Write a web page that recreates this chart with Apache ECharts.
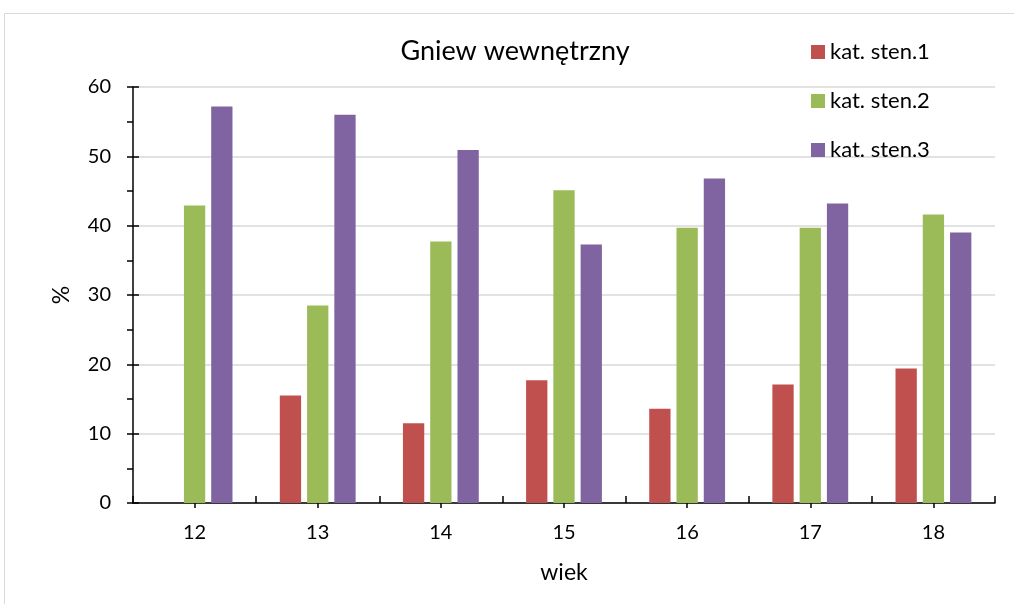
<!DOCTYPE html>
<html>
<head>
<meta charset="utf-8">
<script src="https://cdn.jsdelivr.net/npm/echarts@6/dist/echarts.min.js"></script>
<style>
  html, body { margin: 0; padding: 0; background: #fff; }
  #chart { width: 1014px; height: 604px; }
</style>
</head>
<body>
<div id="chart"></div>
<script>
// Age groups (wiek) and share of each sten category, in percent
const ages = ['12', '13', '14', '15', '16', '17', '18'];
const sten1 = [0, 15.5, 11.5, 17.7, 13.6, 17.1, 19.4];
const sten2 = [42.9, 28.5, 37.7, 45.1, 39.7, 39.7, 41.6];
const sten3 = [57.2, 56.0, 50.9, 37.3, 46.8, 43.2, 39.0];
const seriesNames = ['kat. sten.1', 'kat. sten.2', 'kat. sten.3'];
const colors = ['#C0504D', '#9BBB59', '#8064A2'];

const FONT = 'Lato, "Open Sans", sans-serif';
const chart = echarts.init(document.getElementById('chart'), null, { renderer: 'canvas' });

const grid = { left: 133, right: 19, top: 87, bottom: 101, containLabel: false };

const bar = (name, data, i) => ({
  name, type: 'bar', data,
  xAxisIndex: 0, yAxisIndex: 0,
  barWidth: 21.3, barGap: '28%',
  itemStyle: { color: colors[i] },
  emphasis: { disabled: true }
});

chart.setOption({
  animation: false,
  color: colors,
  textStyle: { fontFamily: FONT, color: '#000' },
  title: {
    text: 'Gniew wewnętrzny',
    left: 510, top: 33, textAlign: 'center',
    textStyle: { fontFamily: FONT, fontSize: 27, fontWeight: 'normal', color: '#000' }
  },
  legend: {
    orient: 'vertical', left: 811, top: 41, padding: 0,
    icon: 'rect', itemWidth: 14, itemHeight: 14, itemGap: 27,
    textStyle: { fontFamily: FONT, fontSize: 22, color: '#000' },
    data: seriesNames
  },
  grid,
  graphic: [{
    type: 'rect', silent: true,
    shape: { x: 4.5, y: 13.5, width: 1100, height: 700 },
    style: { fill: 'none', stroke: '#d9d9d9', lineWidth: 1 }
  }],
  xAxis: [{
    type: 'category', data: ages, position: 'bottom',
    axisLine: { lineStyle: { color: '#000', width: 1.5 } },
    axisTick: { show: true, inside: true, length: 7, alignWithLabel: false, lineStyle: { color: '#000', width: 1.5 } },
    axisLabel: { fontFamily: FONT, fontSize: 20, color: '#000', margin: 20 },
    name: 'wiek', nameLocation: 'middle', nameGap: 58,
    nameTextStyle: { fontFamily: FONT, fontSize: 23, color: '#000' },
    splitLine: { show: false }
  }, {
    // Second copy of the category axis: ticks under each age label
    type: 'category', data: ages, position: 'bottom',
    axisLine: { show: false },
    axisTick: { show: true, inside: false, length: 5, alignWithLabel: true, lineStyle: { color: '#000', width: 1.5 } },
    axisLabel: { show: false },
    splitLine: { show: false }
  }],
  yAxis: [{
    type: 'value', min: 0, max: 60, interval: 10,
    axisLine: { show: true, lineStyle: { color: '#000', width: 1.5 } },
    axisTick: { show: true, inside: false, length: 6, lineStyle: { color: '#000', width: 1.5 } },
    minorTick: { show: true, splitNumber: 2, length: 6, lineStyle: { color: '#000', width: 1.5 } },
    axisLabel: { fontFamily: FONT, fontSize: 20, color: '#000', margin: 22 },
    splitLine: { show: true, lineStyle: { color: '#d9d9d9', width: 1.5 } },
    name: '%', nameLocation: 'middle', nameGap: 60, nameRotate: 90,
    nameTextStyle: { fontFamily: FONT, fontSize: 23, color: '#000' }
  }, {
    // Inner half of the major ticks on the value axis
    type: 'value', min: 0, max: 60, interval: 10, position: 'left',
    axisLine: { show: false },
    axisTick: { show: true, inside: true, length: 6, lineStyle: { color: '#000', width: 1.5 } },
    axisLabel: { show: false },
    splitLine: { show: false }
  }],
  series: [bar(seriesNames[0], sten1, 0), bar(seriesNames[1], sten2, 1), bar(seriesNames[2], sten3, 2)]
});
</script>
</body>
</html>
